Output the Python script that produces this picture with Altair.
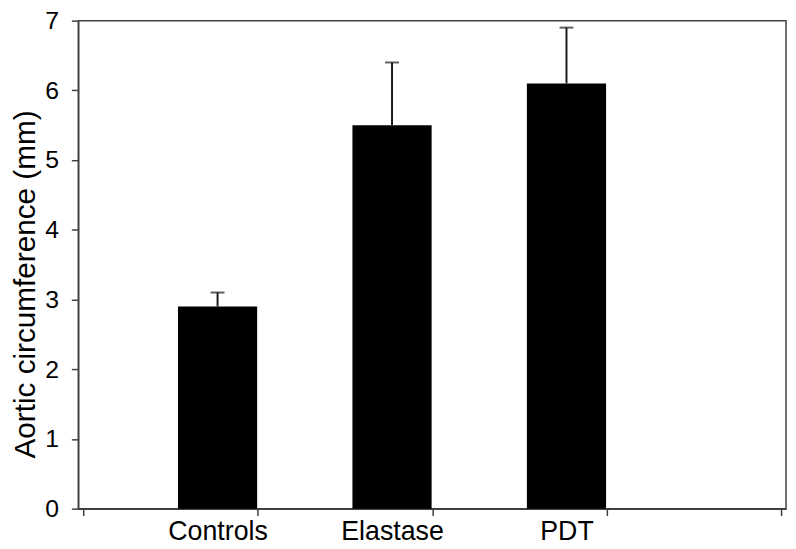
import altair as alt
import pandas as pd

categories = ["Controls", "Elastase", "PDT"]
means = [2.9, 5.5, 6.1]
errors = [0.2, 0.9, 0.8]
y_ticks = [0, 1, 2, 3, 4, 5, 6, 7]

BAR_OFFSET = 0.77  # Excel-like offset of each bar inside its slot
positions = [i + BAR_OFFSET for i in range(len(categories))]

df = pd.DataFrame({
    "category": categories,
    "pos": positions,
    "mean": means,
    "upper": [m + e for m, e in zip(means, errors)],
})

axis_values = [0, 1, 2, 3, 4] + positions
label_expr = " : ".join(
    f"datum.value == {p} ? '{c}'" for p, c in zip(positions, categories)
) + " : ''"
tick_test = " || ".join(f"datum.value == {p}" for p in positions)

FONT = "Liberation Sans"
LINE = "#404040"
PLOT_H = 493

x_enc = alt.X(
    "pos:Q",
    scale=alt.Scale(domain=[0, 4], nice=False, zero=False),
    axis=alt.Axis(
        values=axis_values,
        labelExpr=label_expr,
        title=None,
        grid=False,
        domainColor=LINE,
        domainWidth=1.5,
        tickColor=LINE,
        tickWidth=1.5,
        tickSize=7,
        tickOpacity={"condition": {"test": tick_test, "value": 0}, "value": 1},
        labelFont=FONT,
        labelFontSize=27,
        labelColor="black",
        labelPadding=3,
        labelFlush=False,
        labelOverlap=False,
    ),
)

y_scale = alt.Scale(domain=[0, 7], nice=False)

bars = alt.Chart(df).mark_bar(size=80, color="black").encode(
    x=x_enc,
    y=alt.Y(
        "mean:Q",
        scale=y_scale,
        axis=alt.Axis(
            values=y_ticks,
            format="d",
            title="Aortic circumference (mm)",
            titleFont=FONT,
            titleFontSize=30,
            titleFontWeight="normal",
            titleColor="black",
            titleAngle=-90,
            titleAlign="center",
            titleBaseline="middle",
            titleX=-53,
            titleY=266,
            grid=False,
            domainColor=LINE,
            domainWidth=1.5,
            tickColor=LINE,
            tickWidth=1.5,
            tickSize=7,
            labelFont=FONT,
            labelFontSize=25,
            labelColor="black",
            labelPadding=13,
        ),
    ),
)

err = alt.Chart(df).mark_rule(color="#1a1a1a", strokeWidth=2).encode(
    x="pos:Q",
    y=alt.Y("mean:Q", scale=y_scale),
    y2="upper:Q",
)

caps = alt.Chart(df).mark_tick(
    color="#1a1a1a", orient="horizontal", size=14, thickness=2
).encode(
    x="pos:Q",
    y=alt.Y("upper:Q", scale=y_scale),
)

chart = (
    alt.layer(bars, err, caps)
    .properties(
        width=715,
        height=PLOT_H,
        autosize=alt.AutoSizeParams(type="none"),
        padding={"left": 71, "top": 10, "right": 2, "bottom": 38},
        background="white",
    )
    .configure_view(stroke=LINE, strokeWidth=1.5)
)

chart.save("out.html", embed_options={"renderer": "svg", "actions": False})
